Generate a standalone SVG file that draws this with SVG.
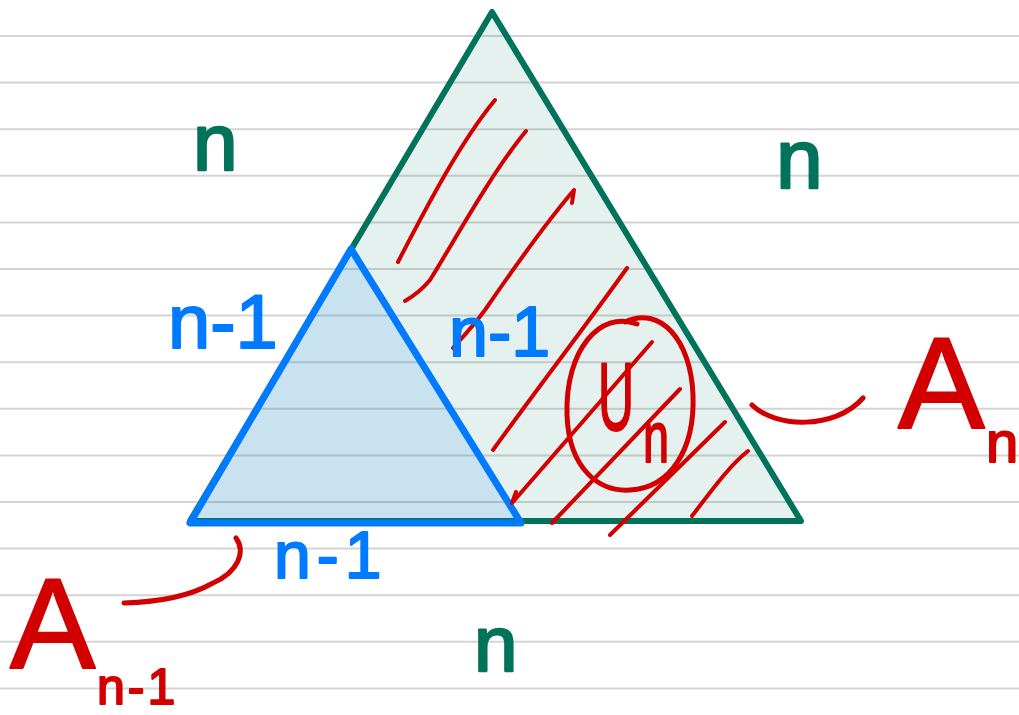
<svg xmlns="http://www.w3.org/2000/svg" width="1019" height="715" viewBox="0 0 1019 715">
<style>
.rule{stroke:#d4d4d4;stroke-width:2}
.g{fill:#00735a;stroke:#00735a;stroke-width:2.5;stroke-linejoin:round;font-family:"Liberation Sans",Arial,sans-serif}
.b{fill:#007aff;stroke:#007aff;stroke-width:2;stroke-linejoin:round;font-family:"Liberation Sans",Arial,sans-serif}
.r{fill:#d20000;stroke:#d20000;stroke-width:2;stroke-linejoin:round;font-family:"Liberation Sans",Arial,sans-serif}
.hatch{fill:none;stroke:#d20000;stroke-width:4;stroke-linecap:round;stroke-linejoin:round}
.con{fill:none;stroke:#d20000;stroke-width:5;stroke-linecap:round}
</style>
<rect width="1019" height="715" fill="#ffffff"/>
<g id="rules">
<line class="rule" x1="0" y1="36" x2="1019" y2="36"/>
<line class="rule" x1="0" y1="82.6" x2="1019" y2="82.6"/>
<line class="rule" x1="0" y1="129.2" x2="1019" y2="129.2"/>
<line class="rule" x1="0" y1="175.8" x2="1019" y2="175.8"/>
<line class="rule" x1="0" y1="222.4" x2="1019" y2="222.4"/>
<line class="rule" x1="0" y1="269" x2="1019" y2="269"/>
<line class="rule" x1="0" y1="315.6" x2="1019" y2="315.6"/>
<line class="rule" x1="0" y1="362.2" x2="1019" y2="362.2"/>
<line class="rule" x1="0" y1="408.8" x2="1019" y2="408.8"/>
<line class="rule" x1="0" y1="455.4" x2="1019" y2="455.4"/>
<line class="rule" x1="0" y1="502" x2="1019" y2="502"/>
<line class="rule" x1="0" y1="548.6" x2="1019" y2="548.6"/>
<line class="rule" x1="0" y1="595.2" x2="1019" y2="595.2"/>
<line class="rule" x1="0" y1="641.8" x2="1019" y2="641.8"/>
<line class="rule" x1="0" y1="688.4" x2="1019" y2="688.4"/>
</g>
<g id="big-triangle">
<polygon points="492,12 190,521 801,521" fill="#00735a" fill-opacity="0.1" stroke="#00735a" stroke-width="6" stroke-linejoin="round"/>
</g>
<g id="small-triangle">
<polygon points="351,249 190,523 521,523" fill="#007aff" fill-opacity="0.12" stroke="#007aff" stroke-width="7" stroke-linejoin="round"/>
</g>
<g id="hatching">
<path class="hatch" d="M495,100 C462,140 430,200 398,262"/>
<path class="hatch" stroke-width="5" d="M526,131 C490,175 455,240 430,280 C420,292 412,297 405,301"/>
<path class="hatch" d="M572,203 L574,190 C550,218 518,262 485,310 C470,330 460,340 453,348"/>
<path class="hatch" stroke-width="3" d="M627,268 C590,320 540,385 493,450"/>
<path class="hatch" d="M652,342 L512,503 L516,492"/>
<path class="hatch" d="M680,389 L552,523"/>
<path class="hatch" d="M725,422 L610,535"/>
<path class="hatch" d="M748,451 C730,465 712,490 692,516"/>
</g>
<g id="un-circle">
<path fill="none" stroke="#d20000" stroke-width="5" stroke-linecap="round" d="M637,324 C600,310 565,350 567,415 C569,470 600,492 630,490 C670,488 695,450 693,395 C691,340 660,305 625,322"/>
<text class="r" font-size="96" transform="translate(598,430) scale(0.52,1)">U</text>
<text class="r" font-size="72" transform="translate(643,462) scale(0.65,1)">n</text>
</g>
<g id="label-n-left"><text class="g" x="193" y="170" font-size="80">n</text></g>
<g id="label-n-right"><text class="g" x="776" y="188" font-size="84">n</text></g>
<g id="label-n-bottom"><text class="g" x="474" y="671" font-size="78">n</text></g>
<g id="label-n1-left"><text class="b" x="168" y="348" font-size="76">n-1</text></g>
<g id="label-n1-mid"><text class="b" x="449" y="356" font-size="70">n-1</text></g>
<g id="label-n1-bottom"><text class="b" x="274" y="578" font-size="66" letter-spacing="6">n-1</text></g>
<g id="label-A-n-1"><text class="r" x="10" y="668" font-size="128">A</text><text class="r" x="97" y="704" font-size="50" letter-spacing="3">n-1</text></g>
<g id="label-A-n"><text class="r" x="898" y="428" font-size="130">A</text><text class="r" x="986" y="462" font-size="58">n</text></g>
<g id="connectors">
<path class="con" d="M752,405 C775,428 835,430 863,398"/>
<path class="con" d="M236,538 C246,552 238,572 213,583 C190,596 160,602 124,603"/>
</g>
</svg>
